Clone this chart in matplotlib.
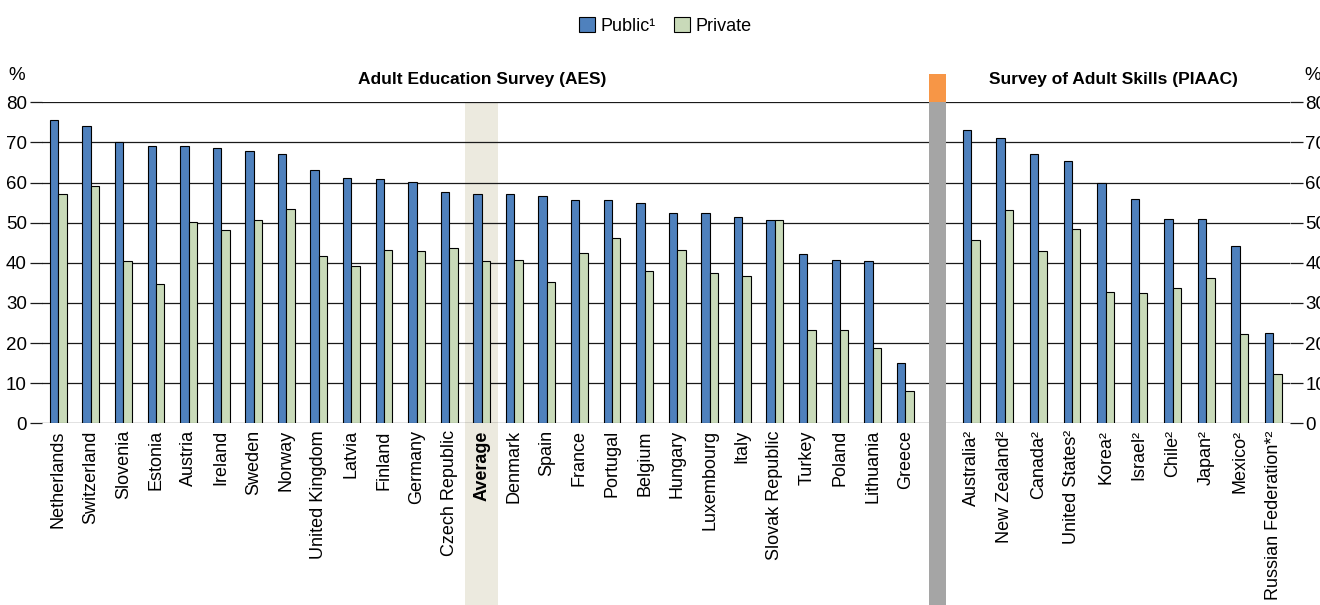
import matplotlib
matplotlib.use("Agg")
import matplotlib.pyplot as plt
from matplotlib.patches import Rectangle, Patch
import numpy as np

plt.rcParams['font.family'] = ['Liberation Sans', 'DejaVu Sans']

aes_countries = ["Netherlands", "Switzerland", "Slovenia", "Estonia", "Austria", "Ireland",
                 "Sweden", "Norway", "United Kingdom", "Latvia", "Finland", "Germany",
                 "Czech Republic", "Average", "Denmark", "Spain", "France", "Portugal",
                 "Belgium", "Hungary", "Luxembourg", "Italy", "Slovak Republic", "Turkey",
                 "Poland", "Lithuania", "Greece"]
aes_public = [75.7, 74.0, 70.0, 69.2, 69.2, 68.7, 67.8, 67.0, 63.2, 61.2, 60.9, 60.2,
              57.6, 57.2, 57.2, 56.7, 55.6, 55.6, 54.8, 52.3, 52.3, 51.5, 50.7, 42.1,
              40.7, 40.5, 15.1]
aes_private = [57.2, 59.2, 40.4, 34.8, 50.2, 48.2, 50.7, 53.5, 41.6, 39.3, 43.3, 42.9,
               43.8, 40.4, 40.7, 35.1, 42.4, 46.1, 37.9, 43.2, 37.5, 36.7, 50.7, 23.2,
               23.2, 18.8, 8.0]

piaac_countries = ["Australia²", "New Zealand²", "Canada²", "United States²", "Korea²",
                   "Israel²", "Chile²", "Japan²", "Mexico²", "Russian Federation*²"]
piaac_public = [73.2, 71.2, 67.2, 65.3, 59.8, 55.8, 50.8, 50.8, 44.2, 22.4]
piaac_private = [45.6, 53.2, 42.9, 48.5, 32.7, 32.4, 33.6, 36.3, 22.3, 12.4]

yticks = [0, 10, 20, 30, 40, 50, 60, 70, 80]

BLUE = "#4F81BD"
GREEN = "#C9DAB9"
BEIGE = "#ECEADF"
GREY = "#A5A5A5"
ORANGE = "#F79646"
GRID = "#1a1a1a"

W, H = 1320, 605
fig = plt.figure(figsize=(W / 100, H / 100), dpi=100)

y0, y80 = 423.3, 102.3
bottom = 1 - y0 / H
height = (y0 - y80) / H

aes_left_px, aes_right_px = 42.0, 937.7
pi_left_px, pi_right_px = 937.7, 1290.1

ax2 = fig.add_axes([pi_left_px / W, bottom, (pi_right_px - pi_left_px) / W, height])
ax1 = fig.add_axes([aes_left_px / W, bottom, (aes_right_px - aes_left_px) / W, height])
ax1.set_zorder(2)
ax2.set_zorder(1)

for ax in (ax1, ax2):
    ax.set_facecolor('none')
    ax.set_ylim(0, 80)
    for s in ax.spines.values():
        s.set_visible(False)
    for v in yticks:
        ax.axhline(v, color=GRID, lw=0.9, zorder=1)
    ax.set_yticks(yticks)
    ax.tick_params(axis='x', length=0, pad=5, labelsize=13)
    ax.tick_params(axis='y', length=9, width=0.9, color=GRID, labelsize=13.5, pad=2)

bw = 0.26
xa = np.arange(len(aes_countries))
ax1.set_xlim(-0.5, 27.0)
avg_i = aes_countries.index("Average")
ax1.add_patch(Rectangle((avg_i - 0.5, -46), 1.0, 126, facecolor=BEIGE, edgecolor='none',
                        zorder=0.5, clip_on=False))
ax1.bar(xa - bw / 2, aes_public, bw, color=BLUE, edgecolor='black', lw=0.8, zorder=3)
ax1.bar(xa + bw / 2, aes_private, bw, color=GREEN, edgecolor='black', lw=0.8, zorder=3)
ax1.set_xticks(xa)
ax1.set_xticklabels(aes_countries, rotation=90)
for lbl in ax1.get_xticklabels():
    if lbl.get_text() == "Average":
        lbl.set_fontweight('bold')
ax1.yaxis.tick_left()

# separator
sep_x = 27.0
ax1.add_patch(Rectangle((sep_x - 0.26, -46), 0.52, 126, facecolor=GREY, edgecolor='none',
                        zorder=4, clip_on=False))
ax1.add_patch(Rectangle((sep_x - 0.26, 80), 0.52, 7.0, facecolor=ORANGE, edgecolor='none',
                        zorder=4, clip_on=False))

bw2 = 0.25
xp = np.arange(len(piaac_countries))
ax2.set_xlim(-1.0, 9.5)
ax2.bar(xp - bw2 / 2, piaac_public, bw2, color=BLUE, edgecolor='black', lw=0.8, zorder=3)
ax2.bar(xp + bw2 / 2, piaac_private, bw2, color=GREEN, edgecolor='black', lw=0.8, zorder=3)
ax2.set_xticks(xp)
ax2.set_xticklabels(piaac_countries, rotation=90)
ax2.yaxis.tick_right()

ax1.text(13.0, 85.6, "Adult Education Survey (AES)", ha='center', va='center',
         fontsize=12.5, fontweight='bold')
ax2.text(4.25, 85.6, "Survey of Adult Skills (PIAAC)", ha='center', va='center',
         fontsize=12.5, fontweight='bold')

fig.text(17 / W, 1 - 75 / H, "%", ha='center', va='center', fontsize=13.5)
fig.text(1313 / W, 1 - 75 / H, "%", ha='center', va='center', fontsize=13.5)

handles = [Patch(facecolor=BLUE, edgecolor='black', lw=0.8),
           Patch(facecolor=GREEN, edgecolor='black', lw=0.8)]
fig.legend(handles, ["Public¹", "Private"], loc='center', bbox_to_anchor=(665 / W, 1 - 26 / H),
           ncol=2, frameon=False, fontsize=13, handlelength=0.9, handleheight=0.9,
           handletextpad=0.3, columnspacing=1.0)

fig.savefig("out.png", dpi=100)
